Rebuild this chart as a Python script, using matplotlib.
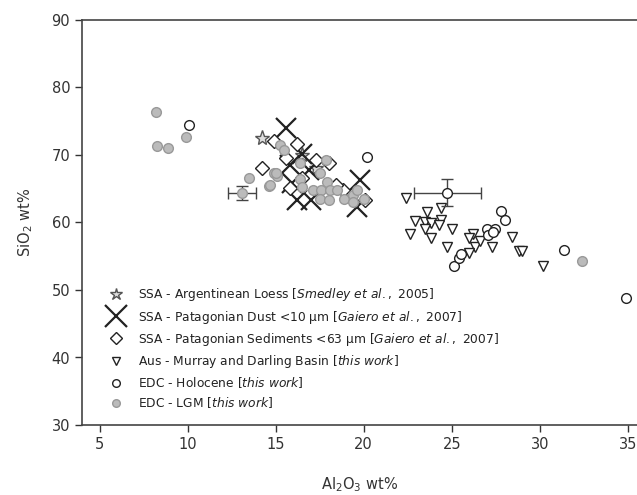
import matplotlib
matplotlib.use("Agg")
import matplotlib.pyplot as plt

plt.rcParams['font.family'] = ['DejaVu Sans']
plt.rcParams['mathtext.fontset'] = 'custom'
plt.rcParams['mathtext.rm'] = 'DejaVu Sans'
plt.rcParams['mathtext.it'] = 'DejaVu Sans:italic'

# SSA - Argentinean Loess
loess_al = [14.2, 16.5, 17.3]
loess_si = [72.5, 70.0, 68.0]

# SSA - Patagonian Dust <10 um
dust_al = [15.6, 15.8, 16.2, 17.0, 19.8, 19.6, 16.5, 16.9, 15.9]
dust_si = [74.0, 68.5, 63.3, 63.3, 66.3, 62.3, 70.2, 67.8, 65.8]

# SSA - Patagonian Sediments <63 um
sed_al = [14.2, 14.9, 16.2, 15.8, 17.3, 18.0, 18.85, 20.1, 16.5, 15.6, 18.4]
sed_si = [68.0, 72.0, 71.7, 65.1, 69.3, 68.8, 64.8, 63.3, 66.6, 69.5, 65.5]

# Aus - Murray and Darling Basin
aus_al = [22.4, 24.4, 23.6, 22.9, 23.5, 23.8, 24.4, 24.3, 25.0, 23.5, 22.6,
          23.8, 24.75, 26.2, 26.0, 26.3, 26.0, 26.6, 27.3, 28.4, 28.8, 29.0, 30.2]
aus_si = [63.7, 62.2, 61.5, 60.2, 60.1, 59.9, 60.4, 59.6, 59.0, 59.0, 58.3,
          57.7, 56.4, 58.3, 57.7, 56.4, 55.5, 57.2, 56.4, 57.9, 55.8, 55.8, 53.5]

# EDC - Holocene
hol_al = [10.1, 20.2, 27.8, 28.05, 25.1, 25.4, 25.55, 27.0, 27.45, 27.05, 27.35, 31.4, 34.9]
hol_si = [74.4, 69.7, 61.7, 60.3, 53.6, 54.7, 55.4, 59.1, 59.0, 58.1, 58.6, 55.9, 48.8]
hol_err = (24.75, 64.4, 1.9, 2.0)

# EDC - LGM
lgm_al = [8.2, 8.26, 8.9, 9.9, 13.5, 14.6, 14.9, 15.1, 15.25, 15.5, 15.0, 14.65,
          16.4, 16.4, 16.5, 17.5, 17.85, 17.9, 17.1, 17.6, 18.1, 18.5, 17.5, 18.0,
          18.9, 19.4, 19.6, 19.4, 20.0, 32.4]
lgm_si = [76.4, 71.4, 71.0, 72.6, 66.6, 65.4, 67.3, 66.9, 71.5, 70.7, 67.3, 65.6,
          68.8, 66.5, 65.3, 67.3, 69.3, 66.0, 64.8, 64.8, 64.8, 64.8, 63.5, 63.3,
          63.5, 64.1, 64.8, 63.1, 63.5, 54.3]
lgm_err = (13.1, 64.4, 0.8, 1.0)

fig = plt.figure(figsize=(6.37, 4.95), dpi=100)
ax = fig.add_axes([82 / 637, 70 / 495, 555 / 637, 405 / 495])

edge = '#222222'
ax.plot(loess_al, loess_si, '*', ms=11, mfc='#dddddd', mec='#555555', mew=1,
        ls='none', label='SSA - Argentinean Loess [$\\mathit{Smedley\\ et\\ al.}\\mathrm{,\\ 2005}$]')
ax.plot(dust_al, dust_si, 'x', ms=14, mec=edge, mew=1.6, ls='none',
        label='SSA - Patagonian Dust <10 µm [$\\mathit{Gaiero\\ et\\ al.}\\mathrm{,\\ 2007}$]')
ax.plot(sed_al, sed_si, 'D', ms=7, mfc='white', mec=edge, mew=1, ls='none',
        label='SSA - Patagonian Sediments <63 µm [$\\mathit{Gaiero\\ et\\ al.}\\mathrm{,\\ 2007}$]')
ax.plot(aus_al, aus_si, 'v', ms=7.5, mfc='white', mec=edge, mew=1, ls='none',
        label='Aus - Murray and Darling Basin [$\\mathit{this\\ work}$]')
ax.errorbar(hol_err[0], hol_err[1], xerr=hol_err[2], yerr=hol_err[3], fmt='o',
            ms=7, mfc='white', mec=edge, mew=1, ecolor='#444444', elinewidth=1,
            capsize=4)
ax.plot(hol_al, hol_si, 'o', ms=7, mfc='white', mec=edge, mew=1, ls='none',
        label='EDC - Holocene [$\\mathit{this\\ work}$]')
ax.errorbar(lgm_err[0], lgm_err[1], xerr=lgm_err[2], yerr=lgm_err[3], fmt='o',
            ms=7, mfc='#bbbbbb', mec='#999999', mew=1, ecolor='#444444',
            elinewidth=1, capsize=4)
ax.plot(lgm_al, lgm_si, 'o', ms=7, mfc='#bbbbbb', mec='#999999', mew=1, ls='none',
        label='EDC - LGM [$\\mathit{this\\ work}$]')

ax.set_xlim(4, 35.52)
ax.set_ylim(30, 90)
ax.set_xticks([5, 10, 15, 20, 25, 30, 35])
ax.set_yticks([30, 40, 50, 60, 70, 80, 90])
ax.tick_params(labelsize=10.5, colors='#333333', length=5, width=1)
ax.spines['right'].set_visible(False)
for s in ['left', 'bottom', 'top']:
    ax.spines[s].set_color('#444444')
    ax.spines[s].set_linewidth(1.2)

ax.set_xlabel('Al$_2$O$_3$ wt%', fontsize=10.5, color='#333333', labelpad=17)
ax.set_ylabel('SiO$_2$ wt%', fontsize=10.5, color='#333333', labelpad=12)

leg = ax.legend(loc='lower left', bbox_to_anchor=(0.035, 0.025), frameon=False,
                fontsize=8.8, handletextpad=1.0, labelspacing=0.42,
                borderaxespad=0, labelcolor='#222222', handlelength=1.6)
for h, size in zip(leg.legend_handles, [9, 16, 6, 5.5, 5.5, 5.5]):
    h.set_markersize(size)

fig.savefig('out.png', dpi=100)
